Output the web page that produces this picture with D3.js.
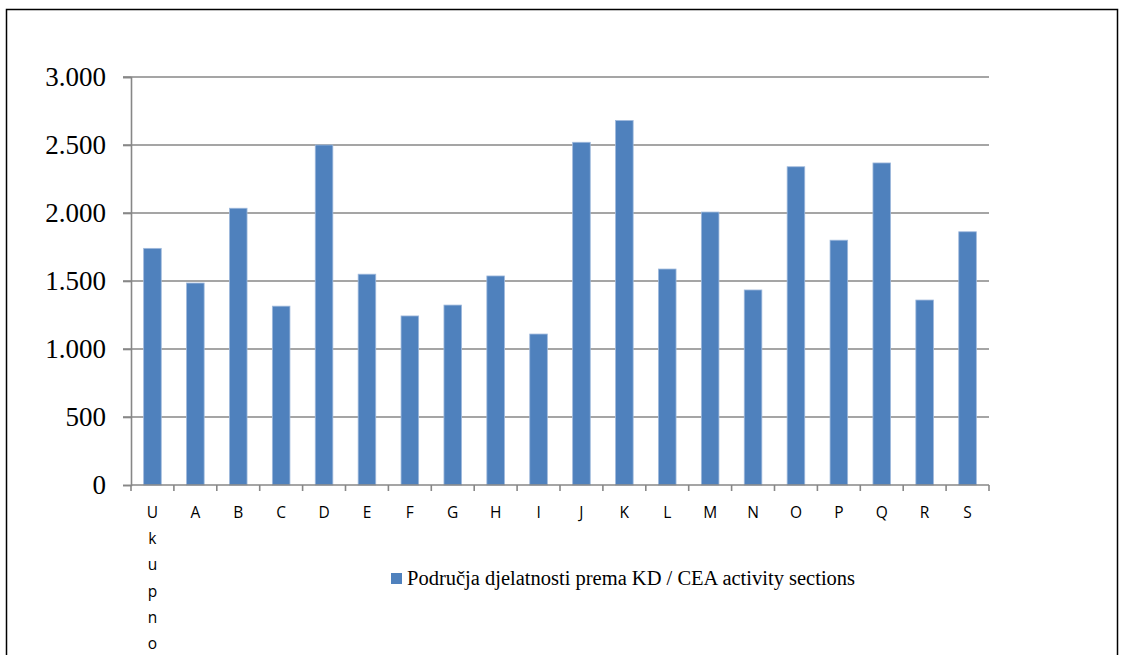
<!DOCTYPE html>
<html>
<head>
<meta charset="utf-8">
<script src="https://cdn.jsdelivr.net/npm/d3@7"></script>
<style>
  body { margin: 0; background: #fff; }
</style>
</head>
<body>
<div id="chart"></div>
<script>
// data
var categories = ["Ukupno", "A", "B", "C", "D", "E", "F", "G", "H", "I", "J", "K", "L", "M", "N", "O", "P", "Q", "R", "S"];
var values = [1740, 1485, 2035, 1315, 2500, 1550, 1243, 1323, 1537, 1110, 2520, 2680, 1588, 2007, 1434, 2340, 1800, 2368, 1360, 1862];
var yTicks = [0, 500, 1000, 1500, 2000, 2500, 3000];
var seriesName = "Područja djelatnosti prema KD / CEA activity sections";

var svgWidth = 1124;
var svgHeight = 655;

var chartMargin = { top: 77, left: 131, right: 135, bottom: 170 };
var chartWidth = svgWidth - chartMargin.left - chartMargin.right;
var chartHeight = 485 - chartMargin.top;

var svg = d3.select("#chart")
  .append("svg")
  .attr("width", svgWidth)
  .attr("height", svgHeight);

// outer frame
svg.append("rect")
  .attr("x", 6.5).attr("y", 9.5)
  .attr("width", 1111).attr("height", 700)
  .attr("fill", "none")
  .attr("stroke", "#000")
  .attr("stroke-width", 1.5);

var chartGroup = svg.append("g")
  .attr("transform", "translate(" + chartMargin.left + "," + chartMargin.top + ")");

var xScale = d3.scaleBand()
  .domain(categories)
  .range([0, chartWidth])
  .paddingInner(0.59)
  .paddingOuter(0.295);

var yScale = d3.scaleLinear()
  .domain([0, 3000])
  .range([chartHeight, 0]);

// gridlines
chartGroup.append("g")
  .selectAll("line")
  .data(yTicks.filter(d => d > 0))
  .enter()
  .append("line")
  .attr("x1", -8)
  .attr("x2", chartWidth)
  .attr("y1", d => yScale(d))
  .attr("y2", d => yScale(d))
  .attr("stroke", "#878787")
  .attr("stroke-width", 1.6);

// y axis
var yAxis = d3.axisLeft(yScale)
  .tickValues(yTicks)
  .tickSize(8)
  .tickPadding(17)
  .tickFormat(d => d3.format(",")(d).replace(/,/g, "."));

var yG = chartGroup.append("g").call(yAxis);
yG.select(".domain").attr("stroke", "#878787").attr("stroke-width", 1.6);
yG.selectAll(".tick line").attr("stroke", "#878787").attr("stroke-width", 1.6);
yG.selectAll("text")
  .attr("font-family", "'Liberation Serif', 'DejaVu Serif', serif")
  .attr("font-size", 27)
  .attr("fill", "#000");

// bars
chartGroup.selectAll(".bar")
  .data(values)
  .enter()
  .append("rect")
  .attr("class", "bar")
  .attr("x", (d, i) => xScale(categories[i]))
  .attr("y", d => yScale(d))
  .attr("width", xScale.bandwidth())
  .attr("height", d => chartHeight - yScale(d))
  .attr("fill", "#4F81BD")
  .attr("stroke", "#9fb9dc")
  .attr("stroke-width", 0.8);

// x axis line + ticks at band edges
var step = xScale.step();
chartGroup.append("line")
  .attr("x1", 0).attr("x2", chartWidth)
  .attr("y1", chartHeight).attr("y2", chartHeight)
  .attr("stroke", "#878787").attr("stroke-width", 1.6);

chartGroup.append("g")
  .selectAll("line")
  .data(d3.range(categories.length + 1))
  .enter()
  .append("line")
  .attr("x1", i => i * step)
  .attr("x2", i => i * step)
  .attr("y1", chartHeight)
  .attr("y2", chartHeight + 6)
  .attr("stroke", "#878787").attr("stroke-width", 1.6);

// x labels, letters stacked when the word is long
var xLabels = chartGroup.append("g");
categories.forEach(function(c, i) {
  var cx = xScale(c) + xScale.bandwidth() / 2;
  c.split("").forEach(function(ch, j) {
    xLabels.append("text")
      .attr("x", cx)
      .attr("y", chartHeight + 33 + j * 26.2)
      .attr("text-anchor", "middle")
      .attr("font-family", "'Open Sans', 'DejaVu Sans', sans-serif")
      .attr("font-size", 15.5)
      .attr("fill", "#000")
      .text(ch);
  });
});

// legend
var legend = svg.append("g").attr("transform", "translate(391,573)");
legend.append("rect")
  .attr("width", 11).attr("height", 11)
  .attr("fill", "#4F81BD");
legend.append("text")
  .attr("x", 16).attr("y", 12)
  .attr("font-family", "'Liberation Serif', 'DejaVu Serif', serif")
  .attr("font-size", 20.5)
  .attr("fill", "#000")
  .text(seriesName);
</script>
</body>
</html>
